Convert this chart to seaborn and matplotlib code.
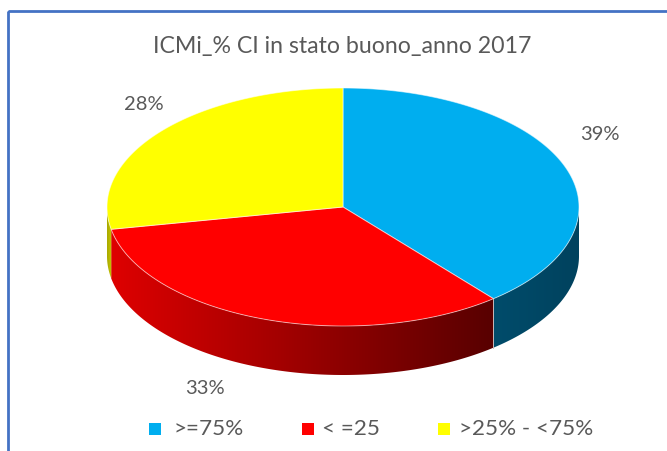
import numpy as np
import matplotlib
matplotlib.use('Agg')
import matplotlib.pyplot as plt
from matplotlib.colors import ListedColormap
from matplotlib.patches import Polygon, Rectangle
import seaborn as sns

# Values
categories = ['>=75%', '< =25', '>25% - <75%']
shares = [39, 33, 28]
share_labels = ['39%', '33%', '28%']
colors = ['#00AEEF', '#FF0000', '#FFFF00']
title = 'ICMi_% CI in stato buono_anno 2017'

# Side wall shading, left colour then right colour of each slice
side_left = ['#004C6B', '#DE0000', '#A8A800']
side_right = ['#00425E', '#580000', '#C8C800']

sns.set_theme(style='white')
plt.rcParams['font.family'] = ['Lato', 'DejaVu Sans']

# Pie geometry in pixels
cx, cy = 343, 207
rx, ry = 236, 119
depth = 49
text_color = '#595959'

fig, ax = plt.subplots(figsize=(6.67, 4.51), dpi=100)
fig.subplots_adjust(0, 0, 1, 1)
ax.axis('off')


def rim(angle):
    # angle in degrees, clockwise from 12 o'clock
    a = np.radians(angle)
    return cx + rx * np.sin(a), cy - ry * np.cos(a)


edges = np.concatenate([[0], np.cumsum(shares)]) * 360 / sum(shares)

# side wall, only the front half of the disc shows
for i in range(len(shares)):
    a0, a1 = max(edges[i], 90), min(edges[i + 1], 270)
    if a1 <= a0:
        continue
    xs, ys = rim(np.linspace(a0, a1, 200))
    outline = list(zip(xs, ys)) + list(zip(xs[::-1], ys[::-1] + depth))
    wall = Polygon(outline, closed=True, facecolor='none', edgecolor='none')
    ax.add_patch(wall)
    cmap = ListedColormap(sns.blend_palette([side_left[i], side_right[i]], 128))
    im = ax.imshow(np.linspace(0, 1, 128)[None, :], cmap=cmap, aspect='auto', zorder=1,
                   extent=(xs.min(), xs.max(), ys.max() + depth, ys.min()))
    im.set_clip_path(wall)

# seam between the red and blue walls
sx, sy = rim(edges[1])
ax.plot([sx, sx], [sy, sy + depth], color='#C9B8B8', lw=0.7, zorder=2)

# top face
for i in range(len(shares)):
    xs, ys = rim(np.linspace(edges[i], edges[i + 1], 200))
    pts = [(cx, cy)] + list(zip(xs, ys))
    ax.add_patch(Polygon(pts, closed=True, facecolor=colors[i],
                         edgecolor=(1, 1, 1, 0.55), lw=0.7, zorder=3))

# chart frame, runs off the right and bottom of the picture
ax.add_patch(Rectangle((8, 11), 700, 500, fill=False, edgecolor='#4472C4', lw=2))

ax.text(342, 46, title, ha='center', va='center', fontsize=16.7, color=text_color)

label_pos = [(600, 135), (205, 389), (144, 105)]
for txt, (x, y) in zip(share_labels, label_pos):
    ax.text(x, y, txt, ha='center', va='center', fontsize=14.5, color=text_color)

# legend
swatch_x = [149, 302, 438]
legend_text_x = [174, 322, 459]
for name, col, x0, x1 in zip(categories, colors, swatch_x, legend_text_x):
    ax.add_patch(Rectangle((x0, 423), 12, 12, facecolor=col, edgecolor='none'))
    ax.text(x1, 429, name, ha='left', va='center', fontsize=16.2, color=text_color)

ax.set_xlim(0, 667)
ax.set_ylim(451, 0)

fig.savefig('out.png', dpi=100)
